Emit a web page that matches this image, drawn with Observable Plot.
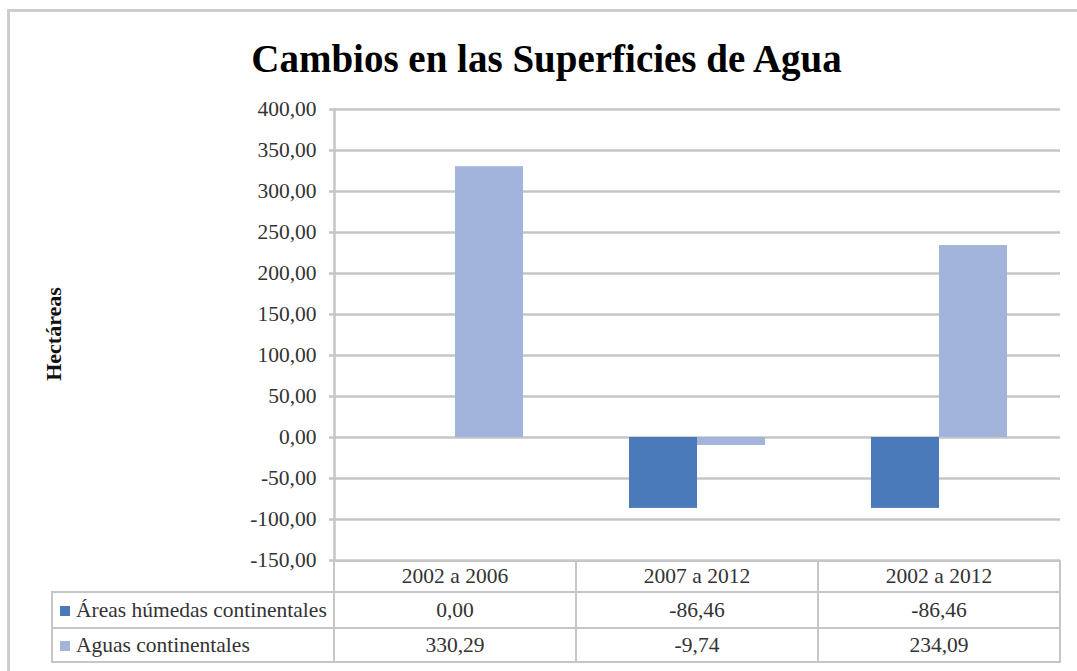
<!DOCTYPE html>
<html>
<head>
<meta charset="utf-8">
<script src="https://cdn.jsdelivr.net/npm/d3@7"></script>
<script src="https://cdn.jsdelivr.net/npm/@observablehq/plot@0.6"></script>
<style>
  html, body { margin: 0; padding: 0; background: #fff; }
  #wrap { position: relative; width: 1077px; height: 671px; overflow: hidden; font-family: "Liberation Serif", "Times New Roman", serif; }
  #border { position: absolute; left: 7px; top: 9px; width: 1200px; height: 800px; border-left: 3px solid #cdcdcd; border-top: 3px solid #cdcdcd; }
  #title { position: absolute; left: 10px; width: 1073px; top: 39px; line-height: 39px; font-size: 39px; font-weight: bold; text-align: center; color: #000; }
  #ylabel { position: absolute; left: 54px; top: 334px; transform: translate(-50%, -50%) rotate(-90deg); font-size: 22px; font-weight: bold; white-space: nowrap; color: #111; }
  #chart { position: absolute; left: 0; top: 0; }
  #tbl { position: absolute; left: 51px; top: 560px; border-collapse: collapse; table-layout: fixed; font-size: 21.5px; color: #333; }
  #tbl td { border: 2px solid #c6c6c6; padding: 0; text-align: center; vertical-align: middle; white-space: nowrap; overflow: hidden; }
  #tbl td.leg { text-align: left; padding-left: 7px; }
  #tbl td.blank { border-top: none; border-left: none; }
  .sw { display: inline-block; width: 10px; height: 10px; margin-right: 6px; vertical-align: 1px; }
</style>
</head>
<body>
<div id="wrap">
  <div id="border"></div>
  <div id="title"></div>
  <div id="ylabel"></div>
  <div id="chart"></div>
  <table id="tbl"></table>
</div>
<script>
const chartTitle = "Cambios en las Superficies de Agua";
const yLabel = "Hectáreas";
const periods = ["2002 a 2006", "2007 a 2012", "2002 a 2012"];
const seriesNames = ["Áreas húmedas continentales", "Aguas continentales"];
const humedas = [0.00, -86.46, -86.46];
const aguas = [330.29, -9.74, 234.09];
const yTicks = [-150, -100, -50, 0, 50, 100, 150, 200, 250, 300, 350, 400];
const colors = ["#4a7ab9", "#a2b4db"];

const fmt = d => d.toFixed(2).replace(".", ",");
const seriesValues = [humedas, aguas];

const data = periods.flatMap((p, i) => seriesNames.map((s, j) => ({ period: p, series: s, value: seriesValues[j][i] })));

document.getElementById("title").textContent = chartTitle;
document.getElementById("ylabel").textContent = yLabel;

const grid = "#c6c6c6";
const chart = Plot.plot({
  width: 1077,
  height: 562,
  marginLeft: 333,
  marginRight: 17,
  marginTop: 109,
  marginBottom: 2,
  style: { fontFamily: "'Liberation Serif', 'Times New Roman', serif", fontSize: "21.5px", background: "transparent", overflow: "visible" },
  fx: { domain: periods, padding: 0, axis: null, label: null },
  x: { domain: seriesNames, paddingInner: 0, paddingOuter: 0.754, axis: null, label: null },
  y: { domain: [-150, 400], axis: null, label: null },
  color: { domain: seriesNames, range: colors },
  marks: [
    Plot.ruleY(yTicks, { stroke: grid, strokeWidth: 2.5 }),
    Plot.barY(data, { fx: "period", x: "series", y: "value", fill: "series" }),
    Plot.axisY(yTicks, { tickFormat: fmt, tickSize: 5, tickPadding: 13, stroke: grid, strokeWidth: 2.5, fill: "#333", fontSize: 21.5, label: null }),
    Plot.frame({ anchor: "left", facetAnchor: "left", stroke: grid, strokeWidth: 2.5 })
  ]
});
document.getElementById("chart").appendChild(chart);

// data table below the chart
const tbl = document.getElementById("tbl");
const colW = [282, 242, 242, 242];
const cg = document.createElement("colgroup");
colW.forEach(w => { const c = document.createElement("col"); c.style.width = w + "px"; cg.appendChild(c); });
tbl.appendChild(cg);
const head = document.createElement("tr");
head.style.height = "31px";
const blank = document.createElement("td"); blank.className = "blank"; head.appendChild(blank);
periods.forEach(p => { const td = document.createElement("td"); td.textContent = p; head.appendChild(td); });
tbl.appendChild(head);
const rowH = [36, 34];
seriesNames.forEach((s, j) => {
  const tr = document.createElement("tr");
  tr.style.height = rowH[j] + "px";
  const td0 = document.createElement("td"); td0.className = "leg";
  const sw = document.createElement("span"); sw.className = "sw"; sw.style.background = colors[j];
  td0.appendChild(sw); td0.appendChild(document.createTextNode(s));
  tr.appendChild(td0);
  seriesValues[j].forEach(v => { const td = document.createElement("td"); td.textContent = fmt(v); tr.appendChild(td); });
  tbl.appendChild(tr);
});
</script>
</body>
</html>
